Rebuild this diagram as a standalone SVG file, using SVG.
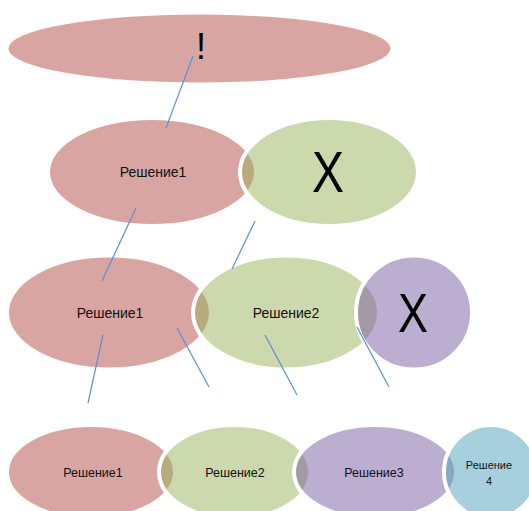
<svg xmlns="http://www.w3.org/2000/svg" width="529" height="511" viewBox="0 0 529 511">
<style>
.s{stroke:#fff;stroke-width:4}
.r{fill:#b34b47;fill-opacity:0.5}
.g{fill:#97b359;fill-opacity:0.5}
.p{fill:#795da1;fill-opacity:0.5}
.a{fill:#4da1bd;fill-opacity:0.5}
.t{font-family:"Liberation Sans",Arial,sans-serif;fill:#111;text-anchor:middle}
.big{font-family:"Liberation Sans",Arial,sans-serif;fill:#000;text-anchor:middle}
.c line{stroke:#5b8fd4;stroke-width:1.2}
</style>
<rect width="529" height="511" fill="#fff"/>
<g id="top">
<ellipse class="r" cx="199.5" cy="48.5" rx="191" ry="34"/>
<text class="big" x="201" y="59" font-size="36">!</text>
</g>
<g id="row2-r1">
<ellipse class="r s" cx="152" cy="172" rx="104" ry="54"/>
<text class="t" x="153" y="177" font-size="14">Решение1</text>
</g>
<g id="row2-x">
<ellipse class="g s" cx="329" cy="172" rx="89" ry="54"/>
<text class="big" x="328" y="192" font-size="57" textLength="32" lengthAdjust="spacingAndGlyphs">X</text>
</g>
<g id="row3-r1">
<ellipse class="r s" cx="109" cy="312.5" rx="102" ry="57"/>
<text class="t" x="110" y="317.5" font-size="14">Решение1</text>
</g>
<g id="row3-r2">
<ellipse class="g s" cx="286" cy="312.5" rx="93" ry="57"/>
<text class="t" x="286" y="317.5" font-size="14">Решение2</text>
</g>
<g id="row3-x">
<ellipse class="p s" cx="414" cy="312.5" rx="58" ry="57"/>
<text class="big" x="413" y="332" font-size="55" textLength="30" lengthAdjust="spacingAndGlyphs">X</text>
</g>
<g id="row4-r1">
<ellipse class="r s" cx="91" cy="472" rx="84" ry="47"/>
<text class="t" x="93" y="476.5" font-size="12.5">Решение1</text>
</g>
<g id="row4-r2">
<ellipse class="g s" cx="234.5" cy="472" rx="75.5" ry="47"/>
<text class="t" x="235" y="476.5" font-size="12.5">Решение2</text>
</g>
<g id="row4-r3">
<ellipse class="p s" cx="375" cy="472" rx="81" ry="47"/>
<text class="t" x="374" y="476.5" font-size="12.5">Решение3</text>
</g>
<g id="row4-r4">
<ellipse class="a s" cx="491" cy="472" rx="47" ry="47"/>
<text class="t" x="489" y="469" font-size="11">Решение</text>
<text class="t" x="489" y="485" font-size="11">4</text>
</g>
<g id="connectors" class="c">
<line x1="193" y1="56" x2="166" y2="128"/>
<line x1="136" y1="208" x2="102" y2="281"/>
<line x1="255" y1="221" x2="232" y2="269"/>
<line x1="103" y1="335" x2="88" y2="403"/>
<line x1="177" y1="328" x2="209" y2="387"/>
<line x1="265" y1="335" x2="297" y2="395"/>
<line x1="357" y1="327" x2="389" y2="387"/>
</g>
</svg>
